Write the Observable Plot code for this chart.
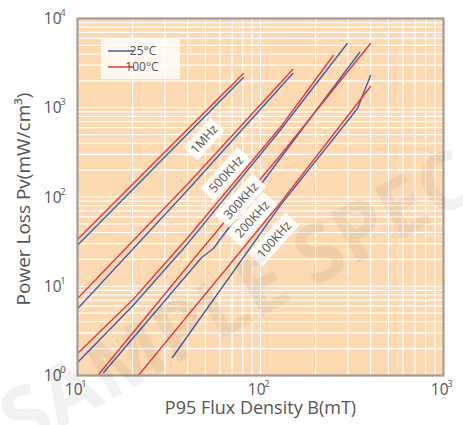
<!DOCTYPE html>
<html><head><meta charset="utf-8">
<script src="https://cdn.jsdelivr.net/npm/d3@7"></script>
<script src="https://cdn.jsdelivr.net/npm/@observablehq/plot@0.6"></script>
<style>body{margin:0;background:#fff;font-family:"Open Sans",sans-serif;}</style>
</head><body><div id="chart"></div>
<script>
// ---- data (B in mT, Pv in mW/cm3) ----
const temps = ["25°C", "100°C"];
const tempColors = ["#3f5fae", "#e8383d"];
const freqLabels = ["1MHz", "500KHz", "300KHz", "200KHz", "100KHz"];
const labelB  = [49.4, 65.2, 78.5, 90.4, 119];
const labelPv = [440, 178, 90, 56, 33];

const f1M_25   = [[10, 28.8], [30, 280], [80.7, 2180]];
const f1M_100  = [[10, 33.4], [30, 320], [80.7, 2420]];
const f500k_25  = [[10, 5.6], [40, 120], [150, 2420]];
const f500k_100 = [[10, 7.3], [40, 140], [150, 2680]];
const f300k_25  = [[10, 1.40], [20, 6.0], [40, 30], [128, 560], [298, 5250]];
const f300k_100 = [[10, 1.76], [20, 7.0], [40, 35], [128, 600], [250, 3850]];
const f200k_25  = [[13.9, 1.08], [47.7, 21], [55.3, 26.5], [128, 270], [348, 4160]];
const f200k_100 = [[12.9, 1.0], [47, 25], [128, 292], [399, 5250]];
const f100k_25  = [[33, 1.59], [128, 80], [339, 980], [399, 2300]];
const f100k_100 = [[21.5, 1.0], [128, 85], [399, 1730]];

const xTicks = [10, 100, 1000];
const xExps = ["1", "2", "3"];
const yTicks = [1, 10, 100, 1000, 10000];
const yExps = ["0", "1", "2", "3", "4"];
const xTitle = "P95 Flux Density B(mT)";
const yTitle = "Power Loss Pv(mW/cm³)";
const watermark = "SAMPLE SPEC";

// ---- build table ----
const seriesList = [
  ["1MHz", "25°C", f1M_25], ["1MHz", "100°C", f1M_100],
  ["500KHz", "25°C", f500k_25], ["500KHz", "100°C", f500k_100],
  ["300KHz", "25°C", f300k_25], ["300KHz", "100°C", f300k_100],
  ["200KHz", "25°C", f200k_25], ["200KHz", "100°C", f200k_100],
  ["100KHz", "25°C", f100k_25], ["100KHz", "100°C", f100k_100]
];
const rows = seriesList.flatMap(([f, t, pts]) => pts.map(([b, p]) => ({f, t, key: f + t, b, p})));

const gridX = d3.range(1, 3).flatMap(e => d3.range(1, 10).map(m => m * 10 ** e)).concat([1000]);
const gridY = d3.range(0, 4).flatMap(e => d3.range(1, 10).map(m => m * 10 ** e)).concat([10000]);
const textColor = "#555";

function labelMark(index, scales) {
  const g = d3.create("svg:g");
  freqLabels.forEach((lab, i) => {
    const x = scales.x(labelB[i]), y = scales.y(labelPv[i]);
    const w = lab.length * 7.6 + 10, h = 19;
    const gg = g.append("g").attr("transform", `translate(${x},${y}) rotate(-48)`);
    gg.append("rect").attr("x", -w / 2).attr("y", -h / 2).attr("width", w).attr("height", h)
      .attr("fill", "#fff").attr("fill-opacity", 0.9);
    gg.append("text").attr("text-anchor", "middle").attr("dy", "0.36em")
      .attr("font-size", 12.5).attr("fill", textColor).attr("font-family", "Open Sans")
      .text(lab);
  });
  return g.node();
}

function legendMark(index, scales, values, dims) {
  const g = d3.create("svg:g");
  const x0 = dims.marginLeft + 24, y0 = dims.marginTop + 20;
  g.append("rect").attr("x", x0).attr("y", y0).attr("width", 79).attr("height", 41)
    .attr("fill", "#fff").attr("fill-opacity", 0.8);
  temps.forEach((t, i) => {
    const yy = y0 + 13 + i * 16;
    g.append("line").attr("x1", x0 + 7).attr("x2", x0 + 33).attr("y1", yy).attr("y2", yy)
      .attr("stroke", tempColors[i]).attr("stroke-width", 1.5);
    g.append("text").attr("x", x0 + 41 + (i ? 0 : 1)).attr("y", yy).attr("dy", "0.35em")
      .attr("font-size", 12).attr("fill", textColor).attr("font-family", "Open Sans").text(t);
  });
  return g.node();
}

function tickMark(index, scales, values, dims) {
  const g = d3.create("svg:g").attr("fill", textColor).attr("font-family", "Open Sans");
  const bottom = dims.height - dims.marginBottom;
  xTicks.forEach((v, i) => {
    const x = scales.x(v);
    g.append("text").attr("x", x + 5.5).attr("y", bottom + 19.5).attr("text-anchor", "end")
      .attr("font-size", 15.5).text("10");
    g.append("text").attr("x", x + 7).attr("y", bottom + 11.5).attr("font-size", 9.5).text(xExps[i]);
  });
  yTicks.forEach((v, i) => {
    const y = scales.y(v);
    g.append("text").attr("x", dims.marginLeft - 15.5).attr("y", y + 6).attr("text-anchor", "end")
      .attr("font-size", 15.5).text("10");
    g.append("text").attr("x", dims.marginLeft - 14).attr("y", y - 2).attr("font-size", 9.5).text(yExps[i]);
  });
  return g.node();
}

const chart = Plot.plot({
  width: 463, height: 425,
  marginLeft: 77, marginRight: 20, marginTop: 18, marginBottom: 50,
  style: {background: "#fff", fontFamily: "Open Sans"},
  x: {type: "log", domain: [10, 1000], axis: null},
  y: {type: "log", domain: [1, 10000], axis: null},
  color: {domain: temps, range: tempColors},
  marks: [
    Plot.frame({fill: "#fcd9b1"}),
    Plot.ruleX(gridX, {stroke: "#fff", strokeWidth: 1.2}),
    Plot.ruleY(gridY, {stroke: "#fff", strokeWidth: 1.2}),
    Plot.line(rows, {x: "b", y: "p", z: "key", stroke: "t", strokeWidth: 1.4, clip: true}),
    labelMark,
    legendMark,
    Plot.frame({stroke: "#a39b94", strokeWidth: 2.2}),
    tickMark,
    Plot.text([xTitle], {frameAnchor: "bottom", dy: 38.5, fontSize: 18, fill: textColor}),
    Plot.text([yTitle], {frameAnchor: "left", textAnchor: "middle", dx: -54, dy: 2, rotate: -90, fontSize: 19, fill: textColor}),
    Plot.text([watermark], {x: 74.8, y: 6.9, rotate: -29, fontSize: 80, fontWeight: "bold", fill: "#000", fillOpacity: 0.055})
  ]
});
document.getElementById("chart").append(chart);
</script></body></html>
